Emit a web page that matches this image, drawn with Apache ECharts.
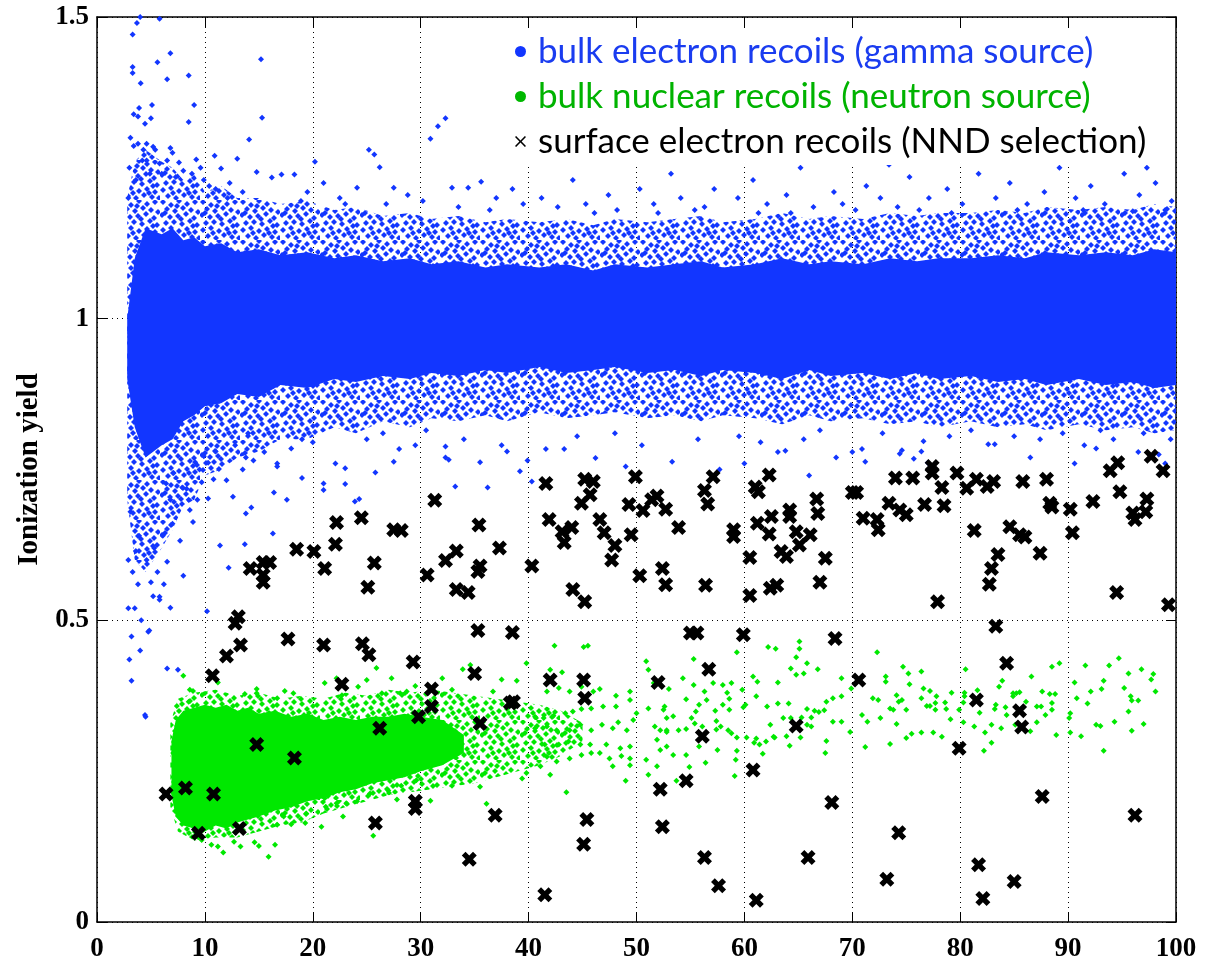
<!DOCTYPE html>
<html>
<head>
<meta charset="utf-8">
<script src="https://cdn.jsdelivr.net/npm/echarts@6/dist/echarts.min.js"></script>
<style>
  html, body { margin: 0; padding: 0; background: #fff; }
  #chart { width: 1209px; height: 965px; }
</style>
</head>
<body>
<div id="chart"></div>
<script>
  // axis ticks
  const xTicks = [0, 10, 20, 30, 40, 50, 60, 70, 80, 90, 100]
  const yTicks = [0, 0.5, 1, 1.5]

  // outline of the gamma band: solid core and speckled halo
  const blueBandX = [2.8, 3.5, 4.5, 6, 7, 8, 9, 10, 11.5, 13, 15, 17, 19.5, 22, 24, 26.5, 29, 31, 33.5, 36, 38, 41, 43.5, 46, 48, 51, 53.5, 56, 58, 61, 63.5, 66, 68, 71, 73.5, 76, 78, 81, 83.5, 86, 88, 91, 93.5, 96, 98, 100]
  const blueCoreLo = [0.9, 0.82, 0.77, 0.79, 0.8, 0.83, 0.84, 0.855, 0.86, 0.875, 0.87, 0.89, 0.885, 0.9, 0.895, 0.905, 0.9, 0.91, 0.905, 0.915, 0.91, 0.92, 0.91, 0.915, 0.92, 0.91, 0.915, 0.905, 0.915, 0.91, 0.9, 0.915, 0.905, 0.91, 0.9, 0.91, 0.9, 0.905, 0.895, 0.9, 0.89, 0.9, 0.89, 0.895, 0.885, 0.89]
  const blueCoreHi = [1.0, 1.1, 1.15, 1.14, 1.15, 1.13, 1.135, 1.12, 1.125, 1.11, 1.115, 1.105, 1.11, 1.1, 1.105, 1.095, 1.1, 1.09, 1.095, 1.085, 1.09, 1.085, 1.09, 1.08, 1.09, 1.085, 1.09, 1.095, 1.085, 1.09, 1.1, 1.09, 1.095, 1.09, 1.1, 1.095, 1.1, 1.1, 1.105, 1.1, 1.11, 1.105, 1.11, 1.105, 1.115, 1.11]
  const blueHaloLo = [0.7, 0.6, 0.58, 0.62, 0.65, 0.69, 0.7, 0.74, 0.75, 0.77, 0.78, 0.8, 0.8, 0.82, 0.81, 0.83, 0.82, 0.835, 0.83, 0.84, 0.83, 0.845, 0.835, 0.84, 0.845, 0.835, 0.84, 0.83, 0.84, 0.835, 0.825, 0.84, 0.83, 0.835, 0.825, 0.83, 0.82, 0.83, 0.82, 0.825, 0.815, 0.825, 0.815, 0.82, 0.81, 0.815]
  const blueHaloHi = [1.2, 1.26, 1.28, 1.26, 1.25, 1.23, 1.24, 1.21, 1.22, 1.2, 1.2, 1.19, 1.195, 1.18, 1.185, 1.17, 1.175, 1.165, 1.17, 1.16, 1.165, 1.16, 1.165, 1.155, 1.165, 1.16, 1.165, 1.17, 1.16, 1.165, 1.175, 1.165, 1.17, 1.165, 1.175, 1.17, 1.175, 1.175, 1.18, 1.175, 1.185, 1.18, 1.185, 1.18, 1.19, 1.185]

  // individual gamma events outside the dense band
  const blueDots = [
    [4.0,1.50],[3.7,1.49],[5.8,1.497],[3.3,1.471],[3.3,1.417],[3.3,1.407],[4.05,1.39],[5.6,1.425],[6.8,1.44],[6.5,1.397],
    [8.5,1.403],[3.9,1.349],[3.4,1.339],[3.8,1.335],[5.1,1.354],[5.0,1.332],[4.45,1.323],[9.0,1.354],[8.5,1.326],[3.4,1.286],
    [3.8,1.29],[4.3,1.28],[4.6,1.29],[5.2,1.285],[5.4,1.28],[6.8,1.283],[7.0,1.275],[4.2,1.262],[4.6,1.262],[5.8,1.257],
    [9.2,1.264],[6.5,1.262],[7.6,1.259],[8.0,1.245],[6.0,1.24],[7.3,1.235],[8.8,1.24],[9.6,1.25],[3.1,1.3],[2.9,1.2],
    [3.0,1.25],[3.6,1.23],[4.9,1.24],[9.9,1.23],[10.4,1.22],[11.0,1.215],
    [15.2,1.43],[15.3,1.333],[14.1,1.297],[25.2,1.28],[25.7,1.272],[26.2,1.251],[30.9,1.298],[31.6,1.319],[32.3,1.332],[11.5,1.249],
    [14.8,1.243],[17.1,1.239],[18.3,1.239],[16.2,1.234],[24.1,1.217],[27.5,1.217],[35.6,1.227],[32.9,1.217],[34.4,1.217],[12.3,1.225],
    [13.5,1.21],[19.5,1.21],[21.0,1.225],[22.5,1.2],[28.8,1.205],[30.2,1.195],[37.0,1.2],[38.5,1.215],[39.5,1.19],[13.0,1.265],
    [20.2,1.26],[23.0,1.19],[26.8,1.19],[33.5,1.185],[36.4,1.18],[18.9,1.195],[10.9,1.27],[12.1,1.2],
    [41.2,1.2],[42.7,1.185],[44.1,1.23],[45.3,1.19],[47.4,1.205],[48.2,1.18],[50.3,1.215],[51.6,1.19],[53.2,1.24],[54.1,1.2],
    [56.3,1.185],[57.2,1.215],[59.4,1.2],[60.8,1.23],[62.1,1.19],[63.9,1.205],[65.2,1.25],[66.4,1.185],[68.3,1.21],[69.1,1.19],
    [71.3,1.22],[72.6,1.2],[74.2,1.185],[75.3,1.235],[77.1,1.2],[78.8,1.215],[80.2,1.19],[81.7,1.24],[83.3,1.2],[84.6,1.225],
    [86.2,1.19],[87.8,1.21],[89.2,1.25],[90.7,1.2],[92.1,1.22],[93.4,1.19],[95.2,1.24],[96.6,1.205],[98.1,1.225],[99.6,1.195],
    [43.3,1.26],[58.2,1.265],[66.0,1.27],[73.4,1.255],[82.0,1.275],[88.1,1.26],[94.2,1.27],[97.3,1.25],[52.0,1.175],[61.3,1.175],
    [70.3,1.18],[79.2,1.175],[85.3,1.18],[91.4,1.18],[99.0,1.18],[46.1,1.175],[55.4,1.18],[64.3,1.175],[76.2,1.18],[96.0,1.178],
    [3.0,0.435],[3.2,0.40],[4.45,0.343],[7.5,0.418],[3.2,0.473],[4.75,0.481],[6.5,0.42],[4.5,0.34],[4.85,0.483],[6.8,0.521],
    [5.8,0.539],[5.8,0.534],[8.0,0.574],[5.0,0.563],[6.5,0.597],[7.7,0.632],[8.9,0.663],[8.6,0.683],[8.5,0.70],[8.3,0.718],
    [7.1,0.744],[6.4,0.727],[9.1,0.762],[9.5,0.75],[9.7,0.729],[9.9,0.772],[10.3,0.761],[10.2,0.515],[10.3,0.702],[3.5,0.52],
    [3.8,0.56],[4.1,0.5],[3.3,0.58],[4.6,0.6],[5.3,0.62],[3.6,0.615],[5.6,0.58],[6.1,0.64],[7.0,0.66],[7.4,0.69],
    [6.8,0.7],[5.2,0.54],[4.0,0.45],[3.9,0.64],[2.9,0.6],[3.1,0.68],[2.9,0.52],[6.2,0.56],[7.9,0.72],[9.3,0.7],
    [11.4,0.624],[12.2,0.587],[13.7,0.626],[16.3,0.644],[13.8,0.677],[14.3,0.687],[12.6,0.705],[16.4,0.712],[19.0,0.736],[21.0,0.727],
    [21.0,0.716],[23.0,0.726],[23.9,0.697],[24.3,0.701],[22.1,0.76],[23.0,0.752],[27.5,0.763],[28.0,0.784],[16.7,0.76],[16.7,0.755],
    [15.5,0.779],[13.5,0.75],[13.8,0.77],[14.5,0.765],[11.3,0.751],[12.0,0.732],[10.8,0.734],[32.3,0.788],[32.3,0.77],[32.6,0.766],
    [35.5,0.762],[33.2,0.722],[36.2,0.72],[39.2,0.747],[39.9,0.765],[40.3,0.73],[11.0,0.78],[12.8,0.79],[18.0,0.785],[20.0,0.795],
    [25.0,0.8],[29.5,0.79],[34.0,0.8],[37.5,0.79],[14.0,0.81],[19.0,0.8],[26.5,0.81],[30.5,0.815],[17.6,0.7],[25.8,0.745],
    [41.6,0.784],[43.3,0.784],[46.2,0.769],[53.3,0.763],[55.7,0.8],[57.7,0.75],[63.1,0.779],[63.8,0.781],[70.0,0.779],[70.9,0.784],
    [71.2,0.763],[74.4,0.776],[74.6,0.782],[75.7,0.768],[76.4,0.78],[77.0,0.761],[76.6,0.797],[82.6,0.792],[83.2,0.792],[87.4,0.80],
    [94.2,0.8],[96.5,0.779],[98.4,0.775],[44.5,0.805],[48.0,0.81],[50.5,0.79],[59.5,0.805],[61.5,0.795],[65.5,0.8],[67.0,0.815],
    [72.8,0.81],[79.0,0.805],[81.0,0.815],[85.0,0.805],[89.5,0.81],[91.5,0.79],[93.0,0.815],[97.0,0.81],[99.5,0.8],[60.0,0.76],
    [66.0,0.74],[68.5,0.77],[86.5,0.77],[90.6,0.76],[92.6,0.785],[99.0,0.76],[49.0,0.755],[38.0,0.78]
  ]

  // outline of the neutron blob: solid core and speckled halo
  const greenCoreX = [6.9, 7.3, 8, 9, 10, 11, 12, 13, 14, 15, 16.5, 18, 19.5, 21, 22.5, 24, 25.5, 27, 28.5, 30, 32, 34]
  const greenCoreLo = [0.21, 0.175, 0.16, 0.155, 0.15, 0.16, 0.155, 0.165, 0.17, 0.175, 0.185, 0.19, 0.2, 0.205, 0.215, 0.22, 0.23, 0.235, 0.24, 0.25, 0.26, 0.28]
  const greenCoreHi = [0.3, 0.335, 0.35, 0.355, 0.36, 0.355, 0.36, 0.35, 0.355, 0.345, 0.35, 0.34, 0.345, 0.335, 0.34, 0.335, 0.34, 0.34, 0.345, 0.34, 0.335, 0.31]
  const greenHaloX = [6.8, 7.5, 9, 11, 13, 15, 17, 19, 21, 23, 25, 27, 29, 31, 33, 35, 37, 39, 41, 43, 45]
  const greenHaloLo = [0.19, 0.15, 0.135, 0.14, 0.14, 0.15, 0.16, 0.165, 0.18, 0.19, 0.2, 0.21, 0.215, 0.22, 0.225, 0.23, 0.24, 0.25, 0.26, 0.275, 0.3]
  const greenHaloHi = [0.33, 0.37, 0.38, 0.385, 0.375, 0.38, 0.37, 0.375, 0.37, 0.38, 0.375, 0.385, 0.38, 0.385, 0.38, 0.375, 0.37, 0.365, 0.36, 0.35, 0.33]

  const greenDots = [
    [8.0,0.408],[8.6,0.385],[8.9,0.383],[7.4,0.358],[8.5,0.365],[11.2,0.397],[13.7,0.378],[14.8,0.386],[14.8,0.379],[17.4,0.383],
    [18.2,0.379],[16.7,0.371],[21.1,0.396],[22.2,0.404],[22.7,0.376],[24.2,0.39],[25.0,0.401],[25.9,0.421],[27.3,0.404],[26.4,0.379],
    [28.1,0.379],[11.7,0.115],[15.9,0.108],[16.5,0.128],[14.6,0.132],[15.0,0.126],[12.7,0.133],[13.3,0.125],[10.6,0.128],[11.2,0.125],
    [9.7,0.136],[16.7,0.161],[17.3,0.175],[18.0,0.162],[19.3,0.164],[19.4,0.18],[20.8,0.158],[21.1,0.205],[21.2,0.191],[22.2,0.197],
    [23.1,0.197],[22.8,0.175],[24.1,0.2],[25.3,0.213],[27.0,0.218],[27.8,0.203],[25.6,0.143],
    [33.9,0.419],[34.6,0.426],[37.5,0.402],[38.9,0.40],[32.0,0.404],[29.5,0.391],[28.7,0.382],[32.9,0.385],[36.7,0.382],[30.9,0.201],
    [36.1,0.196],[35.5,0.224],[32.9,0.226],[28.2,0.226],[29.6,0.235],[39.8,0.429],
    [42.4,0.458],[45.1,0.456],[45.5,0.458],[42.0,0.418],[43.1,0.414],[41.7,0.382],[42.8,0.388],[43.8,0.382],[44.9,0.39],[46.0,0.382],
    [46.6,0.386],[48.1,0.375],[49.4,0.382],[49.4,0.368],[48.1,0.357],[46.9,0.357],[45.8,0.354],[44.9,0.353],[44.1,0.349],[43.4,0.346],
    [42.3,0.342],[41.4,0.338],[40.6,0.34],[40.6,0.321],[41.7,0.324],[42.6,0.318],[43.8,0.318],[44.8,0.327],[45.8,0.318],[46.8,0.327],
    [47.8,0.321],[48.3,0.331],[49.1,0.318],[49.7,0.335],[50.0,0.346],[41.5,0.294],[42.8,0.294],[43.7,0.299],[44.8,0.294],[45.7,0.294],
    [47.2,0.294],[48.5,0.288],[49.4,0.291],[41.7,0.274],[42.6,0.266],[43.8,0.271],[44.9,0.277],[45.8,0.28],[46.6,0.28],[47.5,0.271],
    [48.6,0.275],[49.4,0.271],[41.1,0.258],[42.0,0.244],[43.5,0.215],[47.8,0.258],[49.0,0.234],[49.4,0.26],[39.8,0.247],[39.4,0.238],
    [50.9,0.432],[51.1,0.418],[51.6,0.396],[51.1,0.354],[51.7,0.324],[51.9,0.302],[50.9,0.269],[51.1,0.244],[52.5,0.352],[52.8,0.318],
    [52.8,0.291],[51.9,0.258],
    [59.3,0.447],[62.2,0.456],[62.9,0.453],[65.1,0.465],[65.1,0.453],[64.8,0.439],[65.8,0.429],[64.3,0.42],[64.8,0.41],[65.5,0.412],
    [66.8,0.419],[69.0,0.404],[55.3,0.436],[54.3,0.404],[53.0,0.386],[55.3,0.393],[56.3,0.382],[57.1,0.396],[58.0,0.393],[58.8,0.396],
    [60.8,0.407],[61.2,0.398],[63.1,0.397],[59.8,0.385],[58.4,0.38],[58.6,0.37],[54.6,0.369],[56.5,0.368],[55.8,0.36],[55.5,0.349],
    [55.1,0.338],[52.6,0.357],[53.4,0.341],[52.8,0.338],[57.3,0.35],[58.0,0.36],[58.6,0.352],[57.4,0.333],[59.9,0.356],[60.1,0.36],
    [61.1,0.374],[62.1,0.357],[63.1,0.362],[64.1,0.362],[65.8,0.353],[66.5,0.35],[67.6,0.365],[68.2,0.371],[69.0,0.374],[69.9,0.387],
    [63.6,0.338],[64.3,0.338],[65.3,0.339],[66.2,0.339],[66.9,0.348],[67.4,0.351],[52.2,0.318],[52.8,0.315],[53.9,0.318],[54.6,0.32],
    [55.4,0.329],[56.1,0.324],[57.4,0.319],[57.8,0.324],[58.5,0.318],[58.8,0.313],[59.3,0.306],[60.2,0.306],[61.1,0.304],[62.4,0.327],
    [62.7,0.307],[63.9,0.308],[65.2,0.306],[65.8,0.327],[66.2,0.324],[68.2,0.332],[69.0,0.332],[69.8,0.315],[52.2,0.285],[53.4,0.277],
    [54.6,0.277],[55.8,0.291],[57.5,0.285],[59.3,0.284],[59.2,0.269],[59.1,0.242],[56.4,0.264],[54.9,0.257],[53.7,0.234],[60.9,0.297],
    [61.4,0.294],[61.7,0.279],[62.0,0.299],[62.8,0.306],[64.2,0.292],[67.5,0.28],[67.6,0.3],
    [70.9,0.343],[71.4,0.332],[71.2,0.29],[72.3,0.447],[71.9,0.371],[72.4,0.368],[72.6,0.338],[73.1,0.407],[73.1,0.398],[73.5,0.354],
    [73.8,0.352],[74.1,0.376],[74.1,0.328],[73.5,0.295],[74.3,0.365],[74.6,0.368],[74.7,0.423],[75.0,0.352],[75.0,0.305],[75.2,0.412],
    [75.3,0.394],[75.5,0.312],[76.4,0.415],[76.6,0.387],[76.9,0.358],[76.4,0.371],
    [77.2,0.383],[77.8,0.374],[77.7,0.363],[77.2,0.358],[77.7,0.352],[78.6,0.364],[78.7,0.353],[79.2,0.38],[79.1,0.336],[76.4,0.314],
    [77.5,0.314],[78.3,0.307],[80.5,0.419],[80.4,0.38],[80.4,0.374],[80.3,0.364],[79.9,0.352],[80.3,0.331],[81.3,0.324],[81.6,0.384],
    [81.8,0.347],[82.3,0.314],[82.9,0.327],[82.9,0.297],[82.2,0.284],[83.2,0.353],[83.3,0.36],[83.6,0.39],[83.9,0.40],[83.8,0.321],
    [84.2,0.356],[84.3,0.343],[84.9,0.379],[84.9,0.374],[85.2,0.379],[85.5,0.381],[85.1,0.327],[86.1,0.365],[86.6,0.407],[86.5,0.316],
    [87.1,0.331],[87.1,0.357],[87.5,0.357],[87.6,0.382],[87.9,0.343],[88.5,0.352],[88.5,0.363],[88.3,0.378],[88.8,0.378],[88.5,0.423],
    [89.2,0.429],[88.9,0.31],[90.2,0.346],[90.1,0.338],[90.2,0.314],[90.6,0.397],[90.8,0.371],[91.2,0.308],[91.6,0.425],[91.8,0.362],
    [92.1,0.382],[92.6,0.327],[93.0,0.325],[93.1,0.386],[93.3,0.40],[93.3,0.284],[93.8,0.425],[94.3,0.332],[94.7,0.437],[95.2,0.388],
    [95.6,0.412],[95.6,0.349],[95.8,0.374],[95.9,0.367],[95.9,0.317],[96.5,0.367],[96.8,0.419],[97.0,0.328],[97.7,0.402],[97.9,0.411],
    [98.1,0.382]
  ]

  // surface events (NND selection)
  const blackX = [
    [22.2,0.662],[24.5,0.670],[27.5,0.650],[28.2,0.649],[22.1,0.626],[18.5,0.618],[20.1,0.614],[21.1,0.586],[25.7,0.595],[25.1,0.555],
    [14.2,0.586],[15.4,0.596],[16.0,0.596],[15.4,0.575],[15.4,0.563],[13.1,0.506],[12.8,0.495],[17.7,0.469],[13.3,0.459],[21.0,0.459],
    [24.6,0.461],[12.0,0.441],[10.7,0.408],[25.2,0.443],[22.7,0.394],[14.8,0.294],[18.3,0.272],[26.2,0.321],[6.4,0.212],[8.2,0.222],
    [10.8,0.212],[9.4,0.147],[13.2,0.155],[25.8,0.164],
    [31.3,0.699],[35.4,0.658],[37.3,0.620],[33.3,0.615],[32.3,0.599],[30.6,0.575],[35.5,0.590],[35.3,0.581],[33.3,0.551],[34.4,0.546],
    [40.3,0.590],[41.6,0.727],[41.9,0.667],[43.1,0.647],[44.0,0.654],[43.3,0.629],[44.1,0.551],[45.2,0.531],[45.2,0.734],[46.0,0.730],
    [45.7,0.708],[44.9,0.694],[46.6,0.667],[47.0,0.645],[48.0,0.624],[47.7,0.600],[49.9,0.738],[49.3,0.692],[49.5,0.642],[50.3,0.574],
    [50.6,0.682],[51.4,0.700],[51.9,0.706],[52.7,0.684],[52.4,0.586],[52.7,0.559],[35.3,0.483],[38.5,0.480],
    [57.1,0.738],[56.3,0.715],[56.6,0.693],[53.9,0.654],[59.0,0.650],[59.0,0.639],[56.4,0.558],[62.3,0.741],[61.0,0.721],[61.3,0.713],
    [62.5,0.672],[61.2,0.661],[62.3,0.643],[64.2,0.683],[64.2,0.672],[64.8,0.647],[66.1,0.642],[65.1,0.625],[63.4,0.614],[63.9,0.606],
    [66.7,0.701],[66.8,0.677],[67.5,0.603],[67.0,0.563],[60.5,0.604],[60.5,0.541],[62.4,0.553],[63.0,0.558],[70.0,0.712],[70.4,0.712],
    [74.0,0.736],[75.6,0.736],[73.4,0.694],[74.4,0.683],[75.0,0.675],[71.0,0.669],[72.3,0.667],[72.4,0.650],[76.7,0.692],[55.0,0.479],
    [55.6,0.479],[59.9,0.476],[68.4,0.470],
    [77.4,0.755],[77.4,0.744],[78.3,0.720],[78.5,0.690],[79.7,0.744],[80.6,0.719],[81.5,0.734],[82.5,0.722],[83.1,0.730],[85.8,0.730],
    [88.0,0.734],[88.3,0.694],[88.5,0.688],[90.2,0.684],[90.4,0.645],[92.3,0.697],[93.9,0.748],[94.6,0.761],[94.8,0.713],[97.7,0.772],
    [98.8,0.748],[97.3,0.701],[97.2,0.680],[96.0,0.678],[96.2,0.667],[81.3,0.649],[84.6,0.655],[85.5,0.642],[86.0,0.638],[87.4,0.611],
    [83.5,0.609],[82.9,0.586],[82.7,0.560],[77.9,0.531],[94.5,0.546],[99.3,0.526],[83.3,0.490],
    [29.3,0.431],[31.0,0.386],[31.0,0.357],[29.8,0.340],[35.0,0.412],[38.6,0.365],[38.3,0.363],[35.5,0.329],[29.5,0.200],[29.5,0.188],
    [36.9,0.177],[34.5,0.104],[41.5,0.045],[42.0,0.401],[45.1,0.401],[45.2,0.371],[45.4,0.170],[45.1,0.129],[52.0,0.397],[52.2,0.220],
    [52.4,0.158],[56.7,0.419],[56.1,0.308],[54.6,0.234],[56.3,0.107],[57.6,0.060],[60.8,0.252],[61.1,0.036],[64.8,0.325],[65.9,0.107],
    [68.1,0.198],[70.6,0.401],[74.3,0.148],[73.2,0.071],[84.3,0.429],[81.5,0.368],[85.5,0.350],[85.7,0.323],[79.9,0.288],[87.6,0.208],
    [96.2,0.177],[81.7,0.095],[85.0,0.067],[82.1,0.039]
  ]

  const blueName = 'bulk electron recoils (gamma source)'
  const greenName = 'bulk nuclear recoils (neutron source)'
  const blackName = 'surface electron recoils (NND selection)'

  const BLUE = '#1236ff'
  const GREEN = '#00e800'
  const thickX = 'path://M0,3L3,0L6,3L9,0L12,3L9,6L12,9L9,12L6,9L3,12L0,9L3,6Z'
  const thinX = 'path://M0,1L1,0L5,4L9,0L10,1L6,5L10,9L9,10L5,6L1,10L0,9L4,5Z'

  // speckle fill for the halo: small diamonds scattered over a repeating tile
  function speckle(color) {
    const c = document.createElement('canvas')
    c.width = 40
    c.height = 40
    const g = c.getContext('2d')
    g.fillStyle = color
    const spots = [[3, 2], [11, 5], [19, 1], [27, 4], [35, 2], [7, 9], [15, 11], [23, 8], [31, 10], [38, 12],
      [2, 15], [10, 17], [18, 16], [26, 14], [34, 18], [6, 23], [14, 22], [22, 24], [30, 21], [37, 25],
      [3, 30], [11, 28], [19, 31], [27, 29], [35, 32], [8, 36], [16, 38], [24, 35], [32, 37], [39, 38],
      [5, 13], [21, 19], [29, 33], [13, 33], [33, 26], [17, 6]]
    spots.forEach(([x, y]) => {
      g.beginPath()
      g.moveTo(x, y - 3); g.lineTo(x + 3, y); g.lineTo(x, y + 3); g.lineTo(x - 3, y)
      g.closePath()
      g.fill()
    })
    return { image: c, repeat: 'repeat' }
  }

  // filled outline between a lower and an upper edge, placed through the axes
  function band(xs, lo, hi, fill) {
    return {
      type: 'custom',
      silent: true,
      clip: true,
      data: [[xs[0], lo[0]]],
      renderItem: (params, api) => {
        const pts = xs.map((x, i) => api.coord([x, lo[i]]))
        for (let i = xs.length - 1; i >= 0; i--) pts.push(api.coord([xs[i], hi[i]]))
        return { type: 'polygon', shape: { points: pts }, style: { fill } }
      },
    }
  }

  const serifAxis = { fontFamily: 'Liberation Serif', fontWeight: 'bold', fontSize: 27, color: '#000' }

  const chart = echarts.init(document.getElementById('chart'))
  chart.setOption({
    animation: false,
    backgroundColor: '#fff',
    grid: { left: 97, right: 33, top: 17, bottom: 43 },
    xAxis: [
      {
        type: 'value', min: xTicks[0], max: xTicks[xTicks.length - 1], interval: 10,
        axisLine: { lineStyle: { color: '#000', width: 1.5 } },
        axisTick: { inside: true, length: 10, lineStyle: { color: '#000' } },
        axisLabel: { ...serifAxis, margin: 14 },
        splitLine: { show: true, lineStyle: { color: '#000', type: [1, 4], width: 1 } },
      },
      {
        type: 'value', position: 'top', min: 0, max: 100, interval: 10,
        axisLine: { show: true, onZero: false, lineStyle: { color: '#000', width: 1.5 } },
        axisTick: { inside: true, length: 10, lineStyle: { color: '#000' } },
        axisLabel: { show: false }, splitLine: { show: false },
      },
    ],
    yAxis: [
      {
        type: 'value', min: yTicks[0], max: yTicks[yTicks.length - 1], interval: 0.5,
        name: 'Ionization yield', nameLocation: 'middle', nameGap: 48,
        nameTextStyle: { fontFamily: 'Liberation Serif', fontWeight: 'bold', fontSize: 29, color: '#000' },
        axisLine: { show: true, lineStyle: { color: '#000', width: 1.5 } },
        axisTick: { show: true, inside: true, length: 10, lineStyle: { color: '#000' } },
        axisLabel: { ...serifAxis, margin: 8 },
        splitLine: { show: true, lineStyle: { color: '#000', type: [1, 4], width: 1 } },
      },
      {
        type: 'value', position: 'right', min: 0, max: 1.5, interval: 0.5,
        axisLine: { show: true, onZero: false, lineStyle: { color: '#000', width: 1.5 } },
        axisTick: { show: true, inside: true, length: 10, lineStyle: { color: '#000' } },
        axisLabel: { show: false }, splitLine: { show: false },
      },
    ],
    legend: {
      orient: 'vertical', left: 507, top: 30, itemGap: 10,
      itemWidth: 11, itemHeight: 11, selectedMode: false,
      backgroundColor: '#fff', padding: [4, 18, 6, 8],
      textStyle: { fontFamily: 'Lato', fontSize: 35, lineHeight: 34, padding: [0, 0, 0, 7] },
      data: [
        { name: blueName, icon: 'circle', itemStyle: { color: BLUE }, textStyle: { color: '#1a3cf0' } },
        { name: greenName, icon: 'circle', itemStyle: { color: '#00b800' }, textStyle: { color: '#00b300' } },
        { name: blackName, icon: thinX, itemStyle: { color: '#000' }, textStyle: { color: '#000' } },
      ],
    },
    series: [
      band(blueBandX, blueHaloLo, blueHaloHi, speckle(BLUE)),
      band(blueBandX, blueCoreLo, blueCoreHi, BLUE),
      {
        name: blueName, type: 'scatter', data: blueDots,
        symbol: 'diamond', symbolSize: 6, itemStyle: { color: BLUE, opacity: 1 },
      },
      band(greenHaloX, greenHaloLo, greenHaloHi, speckle(GREEN)),
      band(greenCoreX, greenCoreLo, greenCoreHi, GREEN),
      {
        name: greenName, type: 'scatter', data: greenDots,
        symbol: 'diamond', symbolSize: 6, itemStyle: { color: GREEN, opacity: 1 },
      },
      {
        name: blackName, type: 'scatter', data: blackX,
        symbol: thickX, symbolSize: 15, itemStyle: { color: '#000', opacity: 1 },
      },
    ],
  })
</script>
</body>
</html>
